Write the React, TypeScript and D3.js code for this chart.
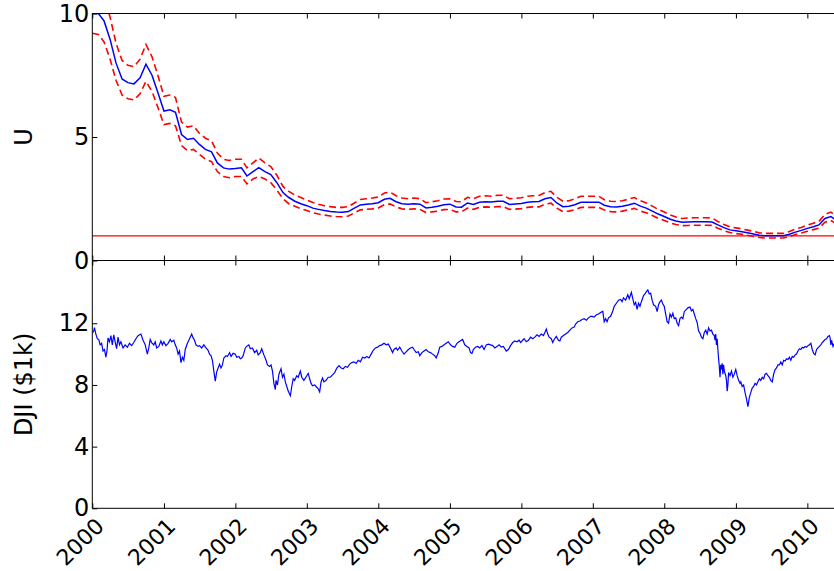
import * as d3 from "d3";
import { useEffect, useRef } from "react";

// x axis years
const years = [2000, 2001, 2002, 2003, 2004, 2005, 2006, 2007, 2008, 2009, 2010];
const uTicks = [0, 5, 10];
const djiTicks = [0, 4, 8, 12];
const uThreshold = 1;

// monthly U, starting Jan 2000
const uValues = [
  10.0, 10.0, 9.7, 8.95, 8.0, 7.35, 7.2, 7.15, 7.4, 7.95, 7.5, 6.8,
  6.05, 6.1, 6.0, 5.1, 4.9, 4.95, 4.7, 4.5, 4.4, 3.95, 3.75, 3.7,
  3.72, 3.75, 3.42, 3.6, 3.76, 3.6, 3.48, 3.15, 2.75, 2.55, 2.4, 2.3,
  2.22, 2.12, 2.07, 2.02, 1.98, 1.96, 1.95, 1.98, 2.12, 2.25, 2.28, 2.3,
  2.34, 2.48, 2.52, 2.38, 2.3, 2.28, 2.3, 2.28, 2.13, 2.16, 2.2, 2.26,
  2.28, 2.17, 2.16, 2.33, 2.27, 2.36, 2.38, 2.37, 2.4, 2.4, 2.27, 2.29,
  2.31, 2.36, 2.38, 2.39, 2.5, 2.55, 2.33, 2.18, 2.2, 2.26, 2.36, 2.36,
  2.36, 2.36, 2.24, 2.18, 2.17, 2.2, 2.25, 2.32, 2.2, 2.12, 2.0, 1.88,
  1.78, 1.67, 1.6, 1.55, 1.56, 1.57, 1.57, 1.57, 1.56, 1.44, 1.33, 1.24,
  1.2, 1.16, 1.12, 1.07, 1.02, 1.0, 1.0, 1.0, 1.0, 1.06, 1.15, 1.22,
  1.3, 1.37, 1.44, 1.7, 1.78, 1.62,
];

const uHigh = [
  11.0, 11.0, 10.65, 9.85, 8.8, 8.1, 7.9, 7.85, 8.15, 8.75, 8.25, 7.5,
  6.65, 6.7, 6.6, 5.6, 5.4, 5.45, 5.15, 4.95, 4.85, 4.35, 4.1, 4.05,
  4.1, 4.1, 3.75, 3.95, 4.15, 3.95, 3.8, 3.45, 3.0, 2.8, 2.65, 2.55,
  2.45, 2.35, 2.28, 2.22, 2.18, 2.15, 2.15, 2.18, 2.33, 2.47, 2.5, 2.53,
  2.57, 2.73, 2.77, 2.62, 2.53, 2.5, 2.53, 2.5, 2.34, 2.38, 2.42, 2.49,
  2.5, 2.39, 2.38, 2.56, 2.5, 2.6, 2.62, 2.6, 2.64, 2.64, 2.5, 2.52,
  2.54, 2.6, 2.62, 2.63, 2.75, 2.8, 2.56, 2.4, 2.42, 2.49, 2.6, 2.6,
  2.6, 2.6, 2.46, 2.4, 2.39, 2.42, 2.48, 2.55, 2.42, 2.33, 2.2, 2.07,
  1.96, 1.84, 1.76, 1.7, 1.72, 1.73, 1.73, 1.73, 1.72, 1.58, 1.46, 1.36,
  1.32, 1.28, 1.23, 1.18, 1.12, 1.1, 1.1, 1.1, 1.1, 1.17, 1.27, 1.34,
  1.43, 1.51, 1.58, 1.87, 1.96, 1.78,
];

const uLow = [
  9.2, 9.15, 8.85, 8.15, 7.3, 6.7, 6.55, 6.5, 6.75, 7.25, 6.85, 6.2,
  5.5, 5.55, 5.45, 4.65, 4.45, 4.5, 4.3, 4.1, 4.0, 3.6, 3.4, 3.35,
  3.4, 3.4, 3.1, 3.3, 3.4, 3.3, 3.15, 2.85, 2.5, 2.3, 2.2, 2.1,
  2.02, 1.93, 1.88, 1.84, 1.8, 1.78, 1.77, 1.8, 1.93, 2.05, 2.07, 2.09,
  2.13, 2.26, 2.29, 2.17, 2.09, 2.07, 2.09, 2.07, 1.94, 1.97, 2.0, 2.06,
  2.07, 1.97, 1.97, 2.12, 2.07, 2.15, 2.17, 2.16, 2.18, 2.18, 2.07, 2.08,
  2.1, 2.15, 2.17, 2.17, 2.28, 2.32, 2.12, 1.98, 2.0, 2.06, 2.15, 2.15,
  2.15, 2.15, 2.04, 1.98, 1.97, 2.0, 2.05, 2.11, 2.0, 1.93, 1.82, 1.71,
  1.62, 1.52, 1.46, 1.41, 1.42, 1.43, 1.43, 1.43, 1.42, 1.31, 1.21, 1.13,
  1.09, 1.06, 1.02, 0.97, 0.93, 0.91, 0.91, 0.91, 0.91, 0.96, 1.05, 1.11,
  1.18, 1.25, 1.31, 1.55, 1.62, 1.47,
];

// DJI in $1k, [years since 2000, value]
const djiPoints: [number, number][] = [
  [0.0, 11.36], [0.02, 11.5], [0.03, 11.72], [0.05, 11.3], [0.07, 11.0], [0.09, 10.95], [0.11, 10.6], [0.13, 10.7],
  [0.15, 10.2], [0.17, 10.3], [0.19, 9.8], [0.205, 10.2], [0.22, 11.05], [0.24, 10.8], [0.26, 11.2], [0.28, 10.6],
  [0.3, 11.25], [0.32, 10.8], [0.34, 10.35], [0.36, 11.1], [0.38, 10.6], [0.4, 10.8], [0.43, 10.4], [0.46, 10.6],
  [0.49, 10.45], [0.52, 10.7], [0.55, 10.55], [0.58, 10.75], [0.61, 11.0], [0.64, 11.2], [0.68, 11.3], [0.71, 10.9],
  [0.74, 10.6], [0.77, 10.0], [0.79, 10.4], [0.81, 10.95], [0.83, 10.75], [0.86, 10.6], [0.88, 10.8], [0.9, 10.4],
  [0.93, 10.5], [0.96, 10.85], [0.98, 10.6],
  [1.0, 10.8], [1.03, 10.55], [1.06, 10.7], [1.09, 10.95], [1.11, 10.8], [1.14, 10.9], [1.16, 10.6], [1.18, 10.4],
  [1.2, 10.0], [1.22, 10.2], [1.24, 9.45], [1.26, 9.8], [1.28, 9.6], [1.3, 10.3], [1.33, 10.7], [1.36, 11.0],
  [1.39, 11.3], [1.41, 11.05], [1.43, 10.9], [1.45, 10.6], [1.48, 10.5], [1.5, 10.55], [1.53, 10.4], [1.56, 10.6],
  [1.59, 10.4], [1.62, 10.25], [1.64, 10.0], [1.66, 9.9], [1.68, 9.6], [1.7, 8.9], [1.72, 8.25], [1.74, 8.85],
  [1.76, 9.1], [1.78, 9.35], [1.8, 9.1], [1.82, 9.3], [1.84, 9.75], [1.87, 9.9], [1.89, 9.85], [1.92, 10.1],
  [1.94, 9.85], [1.97, 10.05],
  [2.0, 10.0], [2.02, 9.8], [2.05, 9.85], [2.07, 9.7], [2.09, 9.75], [2.11, 9.9], [2.14, 10.4], [2.17, 10.55],
  [2.19, 10.6], [2.21, 10.35], [2.24, 10.4], [2.27, 10.1], [2.3, 10.25], [2.32, 9.95], [2.35, 10.1], [2.37, 10.35],
  [2.4, 9.95], [2.43, 9.6], [2.45, 9.3], [2.48, 9.2], [2.5, 9.3], [2.52, 8.9], [2.54, 8.1], [2.56, 7.7],
  [2.57, 8.3], [2.59, 8.0], [2.61, 8.7], [2.64, 9.05], [2.66, 8.5], [2.68, 8.7], [2.7, 8.2], [2.72, 7.9],
  [2.74, 7.6], [2.77, 7.3], [2.79, 7.9], [2.81, 8.4], [2.83, 8.3], [2.86, 8.6], [2.88, 8.5], [2.91, 8.9],
  [2.93, 8.5], [2.96, 8.3], [2.98, 8.45],
  [3.0, 8.6], [3.02, 8.75], [3.04, 8.4], [3.06, 8.1], [3.08, 7.95], [3.11, 8.0], [3.13, 7.9], [3.16, 7.75],
  [3.18, 7.55], [3.2, 8.2], [3.22, 8.45], [3.24, 8.2], [3.27, 8.3], [3.3, 8.5], [3.33, 8.5], [3.36, 8.65],
  [3.39, 8.8], [3.42, 9.1], [3.45, 9.25], [3.48, 9.1], [3.51, 9.05], [3.54, 9.2], [3.57, 9.15], [3.6, 9.35],
  [3.63, 9.45], [3.66, 9.5], [3.69, 9.4], [3.72, 9.6], [3.75, 9.5], [3.78, 9.8], [3.81, 9.75], [3.84, 9.85],
  [3.87, 9.75], [3.9, 10.0], [3.93, 10.25], [3.96, 10.4], [3.99, 10.45],
  [4.02, 10.55], [4.05, 10.6], [4.08, 10.7], [4.11, 10.6], [4.14, 10.65], [4.17, 10.4], [4.2, 10.1], [4.22, 10.3],
  [4.25, 10.4], [4.27, 10.25], [4.3, 10.45], [4.33, 10.2], [4.36, 10.0], [4.39, 10.15], [4.42, 10.3], [4.45, 10.4],
  [4.48, 10.45], [4.5, 10.3], [4.53, 10.1], [4.56, 10.15], [4.58, 9.9], [4.61, 10.1], [4.64, 10.2], [4.67, 10.3],
  [4.7, 10.15], [4.73, 10.1], [4.76, 10.0], [4.79, 9.9], [4.81, 9.75], [4.84, 10.1], [4.86, 10.45], [4.89, 10.5],
  [4.92, 10.6], [4.95, 10.7], [4.98, 10.8],
  [5.01, 10.6], [5.04, 10.5], [5.07, 10.45], [5.1, 10.7], [5.13, 10.8], [5.16, 10.9], [5.18, 10.95], [5.21, 10.6],
  [5.24, 10.5], [5.27, 10.4], [5.29, 10.1], [5.31, 10.05], [5.33, 10.3], [5.36, 10.45], [5.39, 10.5], [5.42, 10.4],
  [5.45, 10.55], [5.48, 10.3], [5.51, 10.6], [5.54, 10.65], [5.57, 10.6], [5.6, 10.55], [5.63, 10.4], [5.66, 10.5],
  [5.69, 10.6], [5.72, 10.45], [5.75, 10.5], [5.77, 10.35], [5.79, 10.2], [5.82, 10.3], [5.85, 10.55], [5.88, 10.75],
  [5.91, 10.85], [5.94, 10.8], [5.97, 10.9], [5.99, 10.75],
  [6.02, 10.9], [6.04, 11.0], [6.07, 10.8], [6.1, 10.9], [6.13, 11.1], [6.16, 11.0], [6.19, 11.1], [6.22, 11.25],
  [6.25, 11.15], [6.28, 11.3], [6.31, 11.2], [6.33, 11.4], [6.35, 11.62], [6.37, 11.3], [6.39, 11.1], [6.42, 11.0],
  [6.44, 10.75], [6.46, 10.95], [6.49, 11.15], [6.52, 10.9], [6.54, 10.85], [6.56, 11.1], [6.59, 11.2], [6.62, 11.3],
  [6.65, 11.4], [6.68, 11.55], [6.71, 11.7], [6.74, 11.75], [6.76, 11.95], [6.79, 12.1], [6.82, 12.15], [6.85, 12.25],
  [6.88, 12.3], [6.91, 12.2], [6.94, 12.35], [6.97, 12.45], [6.99, 12.45],
  [7.02, 12.4], [7.05, 12.55], [7.08, 12.6], [7.11, 12.7], [7.14, 12.78], [7.16, 12.1], [7.18, 12.3], [7.2, 12.1],
  [7.22, 12.35], [7.25, 12.45], [7.28, 12.8], [7.3, 13.1], [7.33, 13.3], [7.36, 13.5], [7.39, 13.55], [7.41, 13.4],
  [7.43, 13.65], [7.46, 13.5], [7.49, 13.85], [7.51, 13.6], [7.54, 14.0], [7.56, 13.6], [7.58, 13.2], [7.6, 13.35],
  [7.62, 12.9], [7.64, 13.3], [7.66, 13.1], [7.68, 13.4], [7.71, 13.8], [7.73, 13.9], [7.75, 14.05], [7.77, 14.16],
  [7.79, 13.9], [7.81, 13.95], [7.83, 13.5], [7.85, 13.2], [7.88, 13.1], [7.9, 12.75], [7.92, 13.2], [7.94, 13.4],
  [7.96, 13.5], [7.98, 13.25],
  [8.0, 13.1], [8.02, 12.6], [8.04, 12.1], [8.06, 12.0], [8.08, 12.6], [8.1, 12.4], [8.12, 12.65], [8.14, 12.3],
  [8.16, 12.35], [8.18, 12.0], [8.2, 11.85], [8.22, 12.3], [8.24, 12.4], [8.26, 12.3], [8.28, 12.75], [8.3, 12.85],
  [8.33, 13.0], [8.36, 13.05], [8.38, 12.8], [8.4, 12.9], [8.42, 12.6], [8.44, 12.3], [8.46, 12.05], [8.48, 11.5],
  [8.5, 11.35], [8.52, 11.1], [8.54, 11.0], [8.56, 11.4], [8.58, 11.55], [8.6, 11.3], [8.62, 11.7], [8.64, 11.5],
  [8.66, 11.55], [8.68, 11.3], [8.7, 11.2], [8.71, 10.9], [8.72, 11.3], [8.73, 10.6], [8.74, 11.0], [8.75, 10.3],
  [8.76, 9.7], [8.77, 9.2], [8.78, 8.5], [8.79, 9.3], [8.8, 9.0], [8.81, 9.4], [8.82, 8.7], [8.83, 9.3],
  [8.84, 8.9], [8.86, 8.6], [8.87, 8.3], [8.88, 7.6], [8.89, 8.0], [8.9, 8.8], [8.92, 8.6], [8.94, 8.9],
  [8.96, 8.5], [8.98, 8.7],
  [9.0, 9.0], [9.02, 8.6], [9.04, 8.3], [9.06, 8.1], [9.07, 8.2], [9.09, 7.9], [9.11, 8.0], [9.13, 7.5],
  [9.15, 7.1], [9.17, 6.6], [9.19, 7.2], [9.21, 7.5], [9.23, 7.8], [9.25, 7.9], [9.27, 8.1], [9.29, 8.0],
  [9.31, 8.2], [9.33, 8.4], [9.35, 8.3], [9.37, 8.5], [9.39, 8.4], [9.41, 8.7], [9.43, 8.75], [9.45, 8.6],
  [9.47, 8.5], [9.49, 8.3], [9.51, 8.2], [9.53, 8.7], [9.55, 9.0], [9.57, 9.1], [9.59, 9.3], [9.61, 9.3],
  [9.63, 9.5], [9.65, 9.3], [9.67, 9.6], [9.69, 9.55], [9.71, 9.7], [9.73, 9.65], [9.75, 9.8], [9.77, 9.6],
  [9.79, 9.85], [9.81, 9.8], [9.83, 9.95], [9.85, 10.0], [9.87, 10.2], [9.89, 10.35], [9.91, 10.3], [9.93, 10.45],
  [9.95, 10.4], [9.97, 10.5], [9.99, 10.45],
  [10.01, 10.55], [10.03, 10.6], [10.05, 10.7], [10.07, 10.3], [10.09, 10.05], [10.11, 9.95], [10.13, 10.3], [10.15, 10.4],
  [10.17, 10.5], [10.19, 10.6], [10.21, 10.75], [10.23, 10.85], [10.25, 10.95], [10.27, 11.0], [10.29, 11.15], [10.31, 11.2],
  [10.32, 11.05], [10.33, 10.6], [10.34, 10.9], [10.36, 10.5], [10.38, 10.7],
];

const DAY = 86400000;
const t0 = Date.UTC(2000, 0, 1);
const fromYears = (t: number) => new Date(t0 + t * 365.25 * DAY);

export default function App() {
  const svgRef = useRef<SVGSVGElement>(null);

  useEffect(() => {
    const W = 834;
    const H = 571;
    const left = 92.3;
    const right = 900;
    const topY0 = 13.5;
    const topY1 = 260.5;
    const botY1 = 508.3;
    const font = "DejaVu Sans, sans-serif";

    const svg = d3.select(svgRef.current).attr("width", W).attr("height", H);
    svg.selectAll("*").remove();

    const x = d3
      .scaleUtc()
      .domain([new Date(t0), new Date(Date.UTC(2011, 0, 1))])
      .range([left, left + 71.5 * 11]);
    const yU = d3.scaleLinear().domain([0, 10]).range([topY1, topY0]);
    const yD = d3.scaleLinear().domain([0, 16]).range([botY1, 261.6]);

    const uDates = uValues.map((_, i) => new Date(Date.UTC(2000, i, 1)));
    const yearDates = years.map((y) => new Date(Date.UTC(y, 0, 1)));

    const defs = svg.append("defs");
    defs
      .append("clipPath")
      .attr("id", "clipTop")
      .append("rect")
      .attr("x", left)
      .attr("y", topY0)
      .attr("width", right - left)
      .attr("height", topY1 - topY0);
    defs
      .append("clipPath")
      .attr("id", "clipBot")
      .append("rect")
      .attr("x", left)
      .attr("y", topY1)
      .attr("width", right - left)
      .attr("height", botY1 - topY1);

    // top panel
    const top = svg.append("g").attr("clip-path", "url(#clipTop)");
    const uLine = d3
      .line<number>()
      .x((_, i) => x(uDates[i]))
      .y((d) => yU(d));

    top
      .append("path")
      .datum(x.domain())
      .attr("d", d3.line<Date>().x((d) => x(d)).y(() => yU(uThreshold)))
      .attr("fill", "none")
      .attr("stroke", "#ff0000")
      .attr("stroke-width", 1.2);

    [uLow, uHigh].forEach((arr) => {
      top
        .append("path")
        .datum(arr)
        .attr("d", uLine)
        .attr("fill", "none")
        .attr("stroke", "#ff0000")
        .attr("stroke-width", 1.6)
        .attr("stroke-dasharray", "7,4");
    });

    top
      .append("path")
      .datum(uValues)
      .attr("d", uLine)
      .attr("fill", "none")
      .attr("stroke", "#0000ff")
      .attr("stroke-width", 1.5);

    // bottom panel
    const bot = svg.append("g").attr("clip-path", "url(#clipBot)");
    bot
      .append("path")
      .datum(djiPoints)
      .attr(
        "d",
        d3
          .line<[number, number]>()
          .x((d) => x(fromYears(d[0])))
          .y((d) => yD(d[1]))
      )
      .attr("fill", "none")
      .attr("stroke", "#0000ff")
      .attr("stroke-width", 1.2);

    // x ticks on every horizontal spine
    const styleAxis = (g: d3.Selection<SVGGElement, unknown, null, undefined>) => {
      g.select(".domain").remove();
      g.attr("font-size", 24).attr("font-family", font);
      g.selectAll("line").attr("stroke", "#000");
    };

    svg
      .append("g")
      .attr("transform", `translate(0,${topY0})`)
      .call(d3.axisTop(x).tickValues(yearDates).tickSize(-5).tickFormat(() => ""))
      .call(styleAxis);
    svg
      .append("g")
      .attr("transform", `translate(0,${topY1})`)
      .call(d3.axisBottom(x).tickValues(yearDates).tickSize(-5).tickFormat(() => ""))
      .call(styleAxis);
    svg
      .append("g")
      .attr("transform", `translate(0,${topY1})`)
      .call(d3.axisTop(x).tickValues(yearDates).tickSize(-5).tickFormat(() => ""))
      .call(styleAxis);
    const xAxis = svg
      .append("g")
      .attr("transform", `translate(0,${botY1})`)
      .call(
        d3
          .axisBottom(x)
          .tickValues(yearDates)
          .tickSize(-5)
          .tickFormat((d) => d3.utcFormat("%Y")(d as Date))
      )
      .call(styleAxis);
    xAxis.attr("font-size", 22);
    xAxis
      .selectAll("text")
      .attr("fill", "#000")
      .attr("text-anchor", "end")
      .attr("x", 12.5)
      .attr("y", 19.2)
      .attr("dy", null)
      .attr("transform", "rotate(-45,12.5,19.2)");

    // y axes
    svg
      .append("g")
      .attr("transform", `translate(${left},0)`)
      .call(d3.axisLeft(yU).tickValues(uTicks).tickSize(-5).tickPadding(3))
      .call(styleAxis)
      .selectAll("text")
      .attr("fill", "#000");
    svg
      .append("g")
      .attr("transform", `translate(${left},0)`)
      .call(d3.axisLeft(yD).tickValues(djiTicks).tickSize(-5).tickPadding(3))
      .call(styleAxis)
      .selectAll("text")
      .attr("fill", "#000");

    // spines
    const spines: [number, number, number, number][] = [
      [left, topY0, right, topY0],
      [left, topY1, right, topY1],
      [left, botY1, right, botY1],
      [left, topY0, left, botY1],
    ];
    svg
      .selectAll("line.spine")
      .data(spines)
      .enter()
      .append("line")
      .attr("class", "spine")
      .attr("x1", (d) => d[0])
      .attr("y1", (d) => d[1])
      .attr("x2", (d) => d[2])
      .attr("y2", (d) => d[3])
      .attr("stroke", "#000")
      .attr("stroke-width", 1);

    // axis titles
    svg
      .append("text")
      .attr("transform", `translate(32,${(topY0 + topY1) / 2}) rotate(-90)`)
      .attr("text-anchor", "middle")
      .attr("font-family", font)
      .attr("font-size", 24)
      .text("U");
    svg
      .append("text")
      .attr("transform", `translate(32,${(topY1 + botY1) / 2}) rotate(-90)`)
      .attr("text-anchor", "middle")
      .attr("font-family", font)
      .attr("font-size", 24)
      .text("DJI ($1k)");
  }, []);

  return (
    <div style={{ position: "absolute", left: 0, top: 0 }}>
      <svg ref={svgRef} style={{ display: "block", background: "#fff" }}></svg>
    </div>
  );
}
